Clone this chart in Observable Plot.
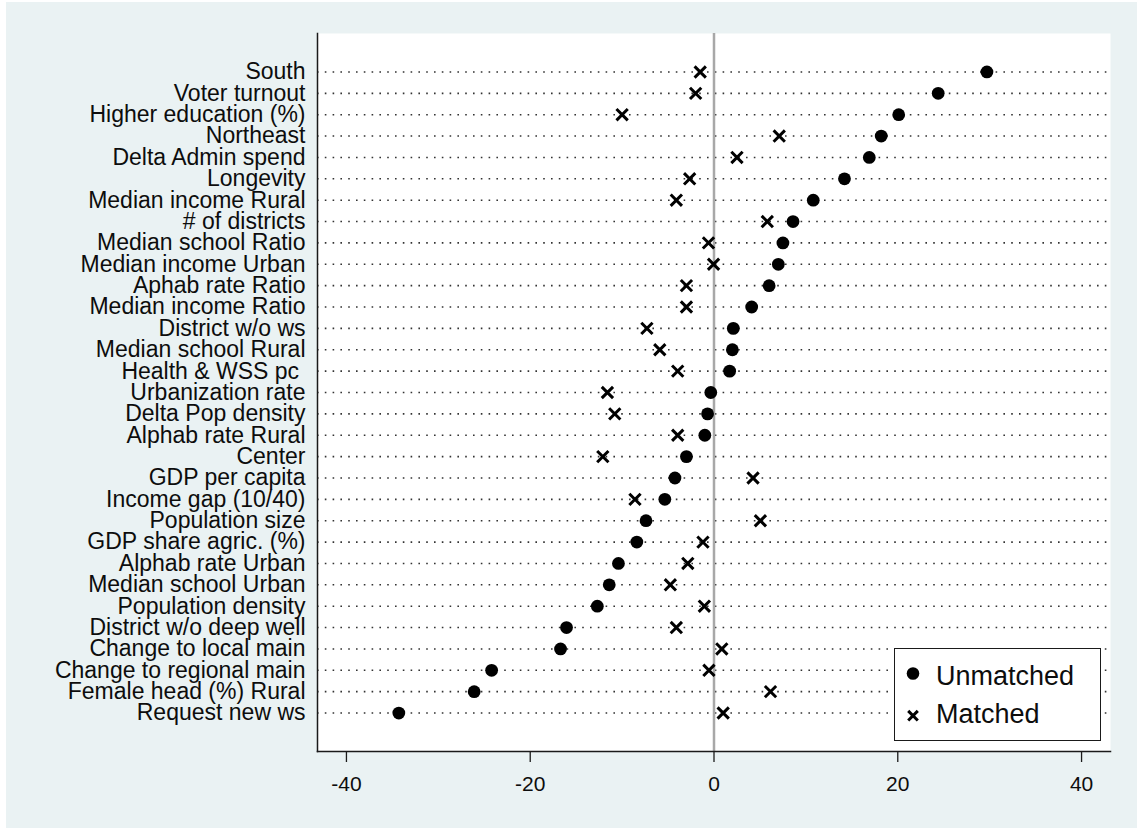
<!DOCTYPE html>
<html>
<head>
<meta charset="utf-8">
<script src="https://cdn.jsdelivr.net/npm/d3@7"></script>
<script src="https://cdn.jsdelivr.net/npm/@observablehq/plot@0.6"></script>
<style>
  html, body { margin: 0; padding: 0; background: #ffffff; }
  #wrap { position: relative; margin-left: 6px; margin-top: 2px; width: 1131px; height: 826px; background: #EAF2F3; overflow: hidden; }
  #legend { position: absolute; left: 888px; top: 646px; width: 207px; height: 93px; box-sizing: border-box; border: 1.3px solid #1a1a1a; background: #ffffff; }
  #legend svg { position: absolute; left: 0; top: 0; }
  text { font-family: "Liberation Sans", Arial, sans-serif; }
</style>
</head>
<body>
<div id="wrap"></div>
<script>
const categories = [
  "South", "Voter turnout", "Higher education (%)", "Northeast", "Delta Admin spend",
  "Longevity", "Median income Rural", "# of districts", "Median school Ratio", "Median income Urban",
  "Aphab rate Ratio", "Median income Ratio", "District w/o ws", "Median school Rural", "Health & WSS pc\u00a0",
  "Urbanization rate", "Delta Pop density", "Alphab rate Rural", "Center", "GDP per capita",
  "Income gap (10/40)", "Population size", "GDP share agric. (%)", "Alphab rate Urban", "Median school Urban",
  "Population density", "District w/o deep well", "Change to local main", "Change to regional main", "Female head (%) Rural",
  "Request new ws"
];
const unmatched = [
  29.7, 24.4, 20.1, 18.2, 16.9,
  14.2, 10.8, 8.6, 7.5, 7.0,
  6.0, 4.1, 2.1, 2.0, 1.7,
  -0.35, -0.7, -1.0, -3.0, -4.25,
  -5.35, -7.4, -8.4, -10.4, -11.4,
  -12.7, -16.05, -16.7, -24.2, -26.1,
  -34.3
];
const matched = [
  -1.5, -2.0, -10.0, 7.1, 2.5,
  -2.65, -4.1, 5.8, -0.6, -0.05,
  -3.0, -3.0, -7.3, -5.9, -3.95,
  -11.6, -10.8, -3.95, -12.1, 4.25,
  -8.6, 5.05, -1.2, -2.85, -4.75,
  -1.05, -4.1, 0.85, -0.55, 6.15,
  1.0
];
const xTicks = [-40, -20, 0, 20, 40];
const seriesNames = ["Unmatched", "Matched"];

const rows = categories.map((c, i) => ({label: c, unmatched: unmatched[i], matched: matched[i]}));

const chart = Plot.plot({
  width: 1131,
  height: 826,
  marginLeft: 311,
  marginRight: 27,
  marginTop: 31,
  marginBottom: 77,
  style: {background: "transparent", fontFamily: "'Liberation Sans', Arial, sans-serif", color: "#0d0d0d"},
  x: {domain: [-43.15, 43.15], label: null},
  y: {type: "point", domain: categories, padding: 1.8, round: false, label: null},
  marks: [
    Plot.frame({fill: "white", stroke: "none"}),
    Plot.ruleY(categories, {stroke: "#333", strokeWidth: 1.6, strokeDasharray: "1.6,6.2"}),
    Plot.ruleX([0], {stroke: "#a8a8a8", strokeWidth: 2.5}),
    Plot.dot(rows, {x: "unmatched", y: "label", r: 6.4, fill: "black"}),
    Plot.dot(rows, {x: "matched", y: "label", symbol: "times", r: 5.2, stroke: "black", strokeWidth: 3}),
    Plot.frame({anchor: "left", stroke: "#1a1a1a", strokeWidth: 1.5}),
    Plot.frame({anchor: "bottom", stroke: "#1a1a1a", strokeWidth: 1.5}),
    Plot.axisX({ticks: xTicks, tickSize: 11, tickPadding: 14, fontSize: 21, tickFormat: d => String(d), label: null, stroke: "#1a1a1a", strokeWidth: 1.3}),
    Plot.axisY({tickSize: 0, tickPadding: 12, fontSize: 23, label: null})
  ]
});
document.getElementById("wrap").appendChild(chart);

// legend
const legend = document.createElement("div");
legend.id = "legend";
const ns = "http://www.w3.org/2000/svg";
const lsvg = document.createElementNS(ns, "svg");
lsvg.setAttribute("width", 205);
lsvg.setAttribute("height", 91);
const circ = document.createElementNS(ns, "circle");
circ.setAttribute("cx", 18); circ.setAttribute("cy", 24.5); circ.setAttribute("r", 6.3); circ.setAttribute("fill", "black");
lsvg.appendChild(circ);
const times = document.createElementNS(ns, "path");
times.setAttribute("d", "M13.2,61.9L22.8,71.5M13.2,71.5L22.8,61.9");
times.setAttribute("stroke", "black"); times.setAttribute("stroke-width", 3); times.setAttribute("fill", "none");
lsvg.appendChild(times);
seriesNames.forEach((name, i) => {
  const t = document.createElementNS(ns, "text");
  t.setAttribute("x", 41);
  t.setAttribute("y", i === 0 ? 36 : 74.3);
  t.setAttribute("font-size", 27);
  t.setAttribute("fill", "#0d0d0d");
  t.textContent = name;
  lsvg.appendChild(t);
});
legend.appendChild(lsvg);
document.getElementById("wrap").appendChild(legend);
</script>
</body>
</html>
